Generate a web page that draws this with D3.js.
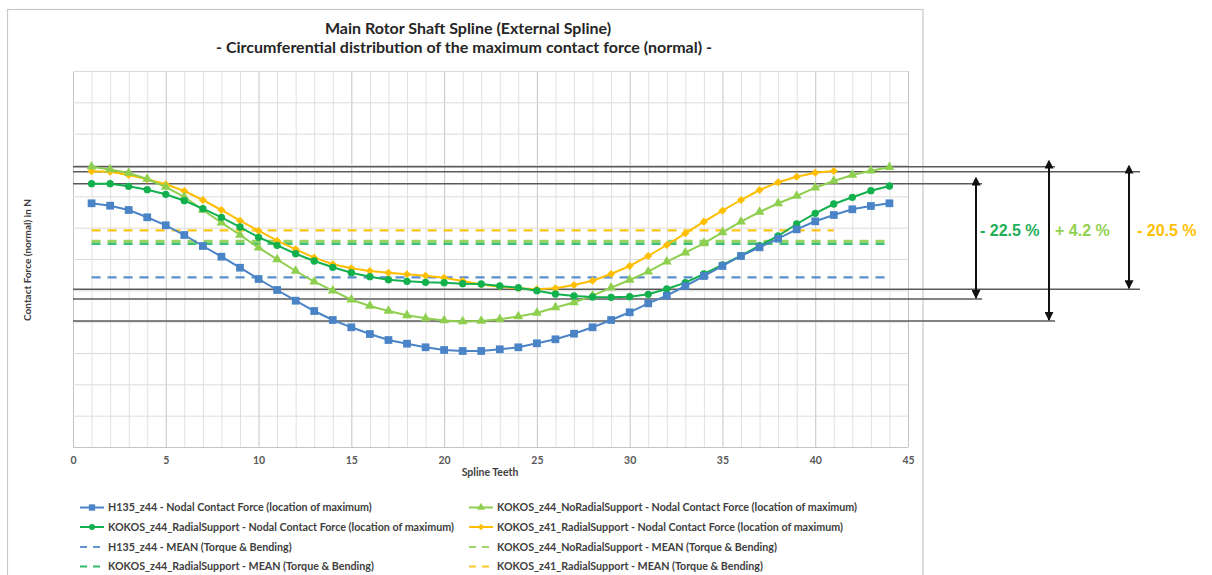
<!DOCTYPE html>
<html><head><meta charset="utf-8">
<script src="https://cdn.jsdelivr.net/npm/d3@7"></script>
<style>
body{margin:0;background:#fff;}
svg{display:block;font-family:Lato,'Open Sans',sans-serif;}
</style>
</head><body>
<svg id="chart" width="1212" height="575"></svg>
<script>
// ---------------- DATA ----------------
const teeth44 = [1,2,3,4,5,6,7,8,9,10,11,12,13,14,15,16,17,18,19,20,21,22,23,24,25,26,27,28,29,30,31,32,33,34,35,36,37,38,39,40,41,42,43,44];
const teeth41 = [1,2,3,4,5,6,7,8,9,10,11,12,13,14,15,16,17,18,19,20,21,22,23,24,25,26,27,28,29,30,31,32,33,34,35,36,37,38,39,40,41];

const h135_z44 = [7778,7701,7564,7331,7076,6766,6415,6073,5722,5362,5011,4669,4340,4053,3820,3606,3415,3297,3182,3096,3064,3064,3118,3182,3310,3437,3616,3820,4053,4299,4586,4829,5138,5457,5777,6096,6373,6648,6948,7203,7404,7586,7692,7778];
const kokos_z44_Radial = [8403,8403,8320,8212,8065,7861,7605,7331,7021,6693,6437,6169,5936,5735,5563,5435,5339,5288,5256,5244,5212,5202,5138,5084,4988,4883,4819,4787,4778,4797,4873,5043,5244,5521,5809,6105,6425,6734,7117,7458,7755,7969,8180,8330];
const kokos_z44_NoRadial = [8946,8856,8745,8553,8298,7979,7564,7159,6766,6361,5990,5617,5276,4988,4701,4500,4340,4203,4107,4037,4005,4021,4076,4165,4277,4452,4612,4829,5084,5330,5595,5914,6201,6501,6852,7191,7500,7778,8011,8276,8489,8681,8818,8930];
const kokos_z41_Radial = [8800,8786,8681,8544,8384,8170,7883,7564,7222,6903,6584,6310,6042,5831,5703,5617,5563,5512,5467,5403,5298,5186,5116,5065,5033,5065,5170,5307,5521,5777,6096,6447,6820,7191,7542,7883,8202,8448,8627,8754,8808];

const mean_h135_z44 = 5416;
const mean_kokos_z44_NoRadial = 6570;
const mean_kokos_z44_Radial = 6485;
const mean_kokos_z41_Radial = 6916;

// reference (max / min) levels used by the percentage annotations
const refLevels = [8946, 8787, 8404, 5033, 4724, 4022];
const annotationLabels = ["- 22.5 %", "+ 4.2 %", "- 20.5 %"];
const annotationTop = [8404, 8946, 8787];
const annotationBottom = [4724, 4022, 5033];

const xTicks = [0,5,10,15,20,25,30,35,40,45];
const yGrid = [0,1000,2000,3000,4000,5000,6000,7000,8000,9000,10000,11000,12000];

const titleText = "Main Rotor Shaft Spline (External Spline)";
const subtitleText = "- Circumferential distribution of the maximum contact force (normal) -";
const xTitle = "Spline Teeth";
const yTitle = "Contact Force (normal) in N";

// ---------------- STYLE ----------------
const C_BLUE = "#4a83c6", C_DGREEN = "#13b04e", C_LGREEN = "#8fcf4f", C_YEL = "#ffbf00";
const C_TXT_DG = "#1fae58", C_TXT_LG = "#92d050", C_TXT_Y = "#ffc000";

const svg = d3.select("#chart");
const x = d3.scaleLinear().domain([0,45]).range([73,908]);
const y = d3.scaleLinear().domain([0,12000]).range([447,71]);

// frame
svg.append("rect").attr("x",7.5).attr("y",9.5).attr("width",915.5).attr("height",600)
  .attr("fill","#fff").attr("stroke","#c8c8c8").attr("stroke-width",1.2);

// titles
svg.append("text").attr("x",468).attr("y",34).attr("text-anchor","middle")
  .attr("font-size",16).attr("font-weight","bold").attr("fill","#262626").text(titleText);
svg.append("text").attr("x",464).attr("y",53).attr("text-anchor","middle")
  .attr("font-size",16).attr("font-weight","bold").attr("fill","#262626").text(subtitleText);

// grid
const g = svg.append("g");
const vLines = d3.range(0,46);
g.selectAll(".vg").data(vLines).join("line")
  .attr("x1",d=>x(d)+0.5).attr("x2",d=>x(d)+0.5).attr("y1",y(12000)).attr("y2",y(0))
  .attr("stroke",d=>d%5===0?"#c4c4c4":"#e0e0e0").attr("stroke-width",1);
g.selectAll(".hg").data(yGrid).join("line")
  .attr("x1",x(0)).attr("x2",x(45)).attr("y1",d=>y(d)+0.5).attr("y2",d=>y(d)+0.5)
  .attr("stroke","#dcdcdc").attr("stroke-width",1);
g.append("line").attr("x1",x(0)).attr("x2",x(45)).attr("y1",y(0)+0.5).attr("y2",y(0)+0.5)
  .attr("stroke","#c4c4c4");

// x axis labels
const xAxis = d3.axisBottom(x).tickValues(xTicks).tickSize(0).tickPadding(10).tickFormat(d3.format("d"));
const ax = svg.append("g").attr("transform",`translate(0,${y(0)})`).call(xAxis);
ax.select(".domain").remove();
ax.selectAll("text").attr("font-size",10.5).attr("font-weight","bold").attr("fill","#595959")
  .attr("font-family","Lato,'Open Sans',sans-serif");

svg.append("text").attr("x",490).attr("y",476).attr("text-anchor","middle")
  .attr("font-size",10.5).attr("font-weight","bold").attr("fill","#404040").text(xTitle);
svg.append("text").attr("transform","translate(31,260) rotate(-90)").attr("text-anchor","middle")
  .attr("font-size",10).attr("font-weight","bold").attr("fill","#404040").text(yTitle);

// mean lines
const means = [
  {v:mean_kokos_z41_Radial, n:41, c:C_YEL, w:2.2},
  {v:mean_kokos_z44_NoRadial, n:44, c:C_LGREEN, w:2.6},
  {v:mean_kokos_z44_Radial, n:44, c:C_DGREEN, w:2.6, op:0.8},
  {v:mean_h135_z44, n:44, c:C_BLUE, w:2.2}
];
svg.selectAll(".mean").data(means).join("line")
  .attr("x1",x(1)).attr("x2",d=>x(d.n)).attr("y1",d=>y(d.v)).attr("y2",d=>y(d.v))
  .attr("stroke",d=>d.c).attr("stroke-width",d=>d.w).attr("stroke-dasharray","9,7")
  .attr("opacity",d=>d.op||0.9);

// reference lines
const refEnds = [1055, 1140, 982, 1140, 982, 1055];
svg.selectAll(".ref").data(refLevels).join("line")
  .attr("x1",x(0)).attr("x2",(d,i)=>refEnds[i]).attr("y1",d=>y(d)).attr("y2",d=>y(d))
  .attr("stroke","#5a5a5a").attr("stroke-width",1.5);

// series
const series = [
  {name:"KOKOS_z41", xs:teeth41, ys:kokos_z41_Radial, c:C_YEL, sym:d3.symbolDiamond2, size:42},
  {name:"KOKOS_NoRad", xs:teeth44, ys:kokos_z44_NoRadial, c:C_LGREEN, sym:d3.symbolTriangle, size:42},
  {name:"KOKOS_Rad", xs:teeth44, ys:kokos_z44_Radial, c:C_DGREEN, sym:d3.symbolCircle, size:42},
  {name:"H135", xs:teeth44, ys:h135_z44, c:C_BLUE, sym:d3.symbolSquare, size:60}
];
const line = d3.line().x(d=>x(d[0])).y(d=>y(d[1]));
series.forEach(s=>{
  const pts = s.xs.map((t,i)=>[t,s.ys[i]]);
  svg.append("path").datum(pts).attr("d",line).attr("fill","none")
    .attr("stroke",s.c).attr("stroke-width",2);
  svg.append("g").selectAll("path").data(pts).join("path")
    .attr("transform",d=>`translate(${x(d[0])},${y(d[1])})`)
    .attr("d",d3.symbol().type(s.sym).size(s.size)).attr("fill",s.c);
});

// arrows
const defs = svg.append("defs");
["s","e"].forEach(k=>{
  defs.append("marker").attr("id","ar"+k).attr("viewBox","0 0 10 10").attr("refX",k==="e"?9:1).attr("refY",5)
    .attr("markerWidth",4.5).attr("markerHeight",4.5).attr("orient",k==="e"?"auto":"auto-start-reverse")
    .append("path").attr("d","M0,0 L10,5 L0,10 Z").attr("fill","#111");
});
const arrowX = [976, 1049, 1129];
const textX = [980, 1055, 1137];
const textC = [C_TXT_DG, C_TXT_LG, C_TXT_Y];
annotationLabels.forEach((lab,i)=>{
  svg.append("line").attr("x1",arrowX[i]).attr("x2",arrowX[i])
    .attr("y1",y(annotationTop[i])+1).attr("y2",y(annotationBottom[i])-1)
    .attr("stroke","#111").attr("stroke-width",2)
    .attr("marker-start","url(#ars)").attr("marker-end","url(#are)");
  svg.append("text").attr("x",textX[i]).attr("y",236).attr("font-family","'Liberation Sans',Arial,sans-serif")
    .attr("font-size",16).attr("font-weight","bold").attr("fill",textC[i]).text(lab);
});

// legend
const legendItems = [
  {t:"H135_z44 - Nodal Contact Force (location of maximum)", c:C_BLUE, sym:d3.symbolSquare, col:0,row:0},
  {t:"KOKOS_z44_RadialSupport - Nodal Contact Force (location of maximum)", c:C_DGREEN, sym:d3.symbolCircle, col:0,row:1},
  {t:"H135_z44 - MEAN (Torque & Bending)", c:C_BLUE, dash:true, col:0,row:2},
  {t:"KOKOS_z44_RadialSupport - MEAN (Torque & Bending)", c:C_DGREEN, dash:true, col:0,row:3},
  {t:"KOKOS_z44_NoRadialSupport - Nodal Contact Force (location of maximum)", c:C_LGREEN, sym:d3.symbolTriangle, col:1,row:0},
  {t:"KOKOS_z41_RadialSupport - Nodal Contact Force (location of maximum)", c:C_YEL, sym:d3.symbolDiamond2, col:1,row:1},
  {t:"KOKOS_z44_NoRadialSupport - MEAN (Torque & Bending)", c:C_LGREEN, dash:true, col:1,row:2},
  {t:"KOKOS_z41_RadialSupport - MEAN (Torque & Bending)", c:C_YEL, dash:true, col:1,row:3}
];
const colX = [80, 469], rowY = [507.5, 527, 547, 566.5];
const lg = svg.append("g");
legendItems.forEach(it=>{
  const gx = colX[it.col], gy = rowY[it.row];
  if(it.dash){
    lg.append("line").attr("x1",gx).attr("x2",gx+24).attr("y1",gy).attr("y2",gy)
      .attr("stroke",it.c).attr("stroke-width",2).attr("stroke-dasharray","7,6").attr("opacity",0.85);
  } else {
    lg.append("line").attr("x1",gx).attr("x2",gx+24).attr("y1",gy).attr("y2",gy)
      .attr("stroke",it.c).attr("stroke-width",2);
    lg.append("path").attr("transform",`translate(${gx+12},${gy})`)
      .attr("d",d3.symbol().type(it.sym).size(it.sym===d3.symbolSquare?40:28)).attr("fill",it.c);
  }
  lg.append("text").attr("x",gx+28).attr("y",gy+3.7).attr("font-size",10.7).attr("font-weight","bold")
    .attr("fill","#404040").text(it.t);
});
</script>
</body></html>
